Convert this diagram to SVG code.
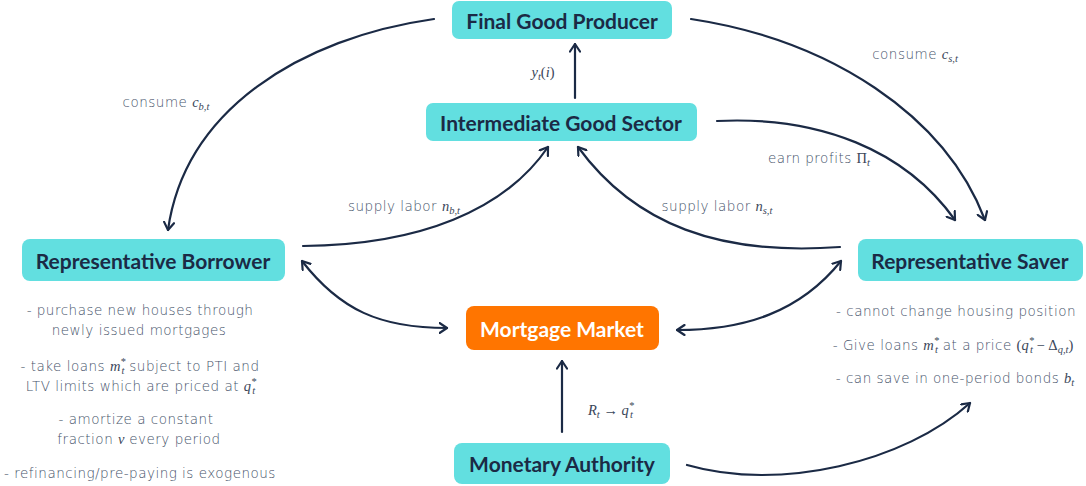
<svg xmlns="http://www.w3.org/2000/svg" width="1086" height="486" viewBox="0 0 1086 486">
  <defs>
    <style>
      .node rect { fill: #62DFE0; }
      .node.market rect { fill: #FF7500; }
      .node text { font-family: Lato, "Open Sans", sans-serif; font-weight: 700; font-size: 21px; fill: #1B2A45; text-anchor: middle; dominant-baseline: central; }
      .node.market text { fill: #FFFFFF; }
      .edges path, .edges line { fill: none; stroke: #1B2A45; stroke-width: 2.2; stroke-linecap: round; }
      .note { font-family: "DejaVu Sans", "Open Sans", sans-serif; font-weight: 200; font-size: 13.5px; letter-spacing: 0.5px; fill: #46536A; text-anchor: middle; }
      .m { font-family: "Liberation Serif", "DejaVu Serif", serif; font-weight: 400; font-style: italic; font-size: 14.5px; letter-spacing: 0; fill: #3A4659; }
      .mr { font-family: "Liberation Serif", "DejaVu Serif", serif; font-weight: 400; font-style: normal; font-size: 14.5px; letter-spacing: 0; fill: #3A4659; }
      .sub { font-size: 10.5px; }
    </style>
    <marker id="head" viewBox="0 0 10 12" refX="8.5" refY="6" markerWidth="10" markerHeight="12" markerUnits="userSpaceOnUse" orient="auto-start-reverse">
      <path d="M1,1 L8.5,6 L1,11" fill="none" stroke="#1B2A45" stroke-width="2.2" stroke-linecap="round" stroke-linejoin="round"/>
    </marker>
  </defs>

  <rect width="1086" height="486" fill="#FFFFFF"/>

  <!-- connectors -->
  <g class="edges">
    <line x1="575" y1="98" x2="575" y2="44" marker-end="url(#head)"/>
    <path d="M434,19 C 300,38 185,110 168,230" marker-end="url(#head)"/>
    <path d="M691,19 C 830,40 945,115 985,220" marker-end="url(#head)"/>
    <path d="M717,121 C 820,116 905,150 955,220" marker-end="url(#head)"/>
    <path d="M303,246 C 420,245 505,210 548,147" marker-end="url(#head)"/>
    <path d="M840,247 C 720,256 635,225 578,147" marker-end="url(#head)"/>
    <path d="M302,261 C 340,310 380,328 447,328" marker-start="url(#head)" marker-end="url(#head)"/>
    <path d="M841,261 C 800,312 745,330 677,330" marker-start="url(#head)" marker-end="url(#head)"/>
    <line x1="562" y1="432" x2="562" y2="361" marker-end="url(#head)"/>
    <path d="M687,465 C 780,492 905,462 970,403" marker-end="url(#head)"/>
  </g>

  <!-- connector labels -->
  <g id="edge-labels">
    <text class="note" x="543" y="77"><tspan class="m">y</tspan><tspan class="m sub" dy="3">t</tspan><tspan class="mr" dy="-3">(</tspan><tspan class="m">i</tspan><tspan class="mr">)</tspan></text>
    <text class="note" x="166" y="107">consume <tspan class="m">c</tspan><tspan class="m sub" dy="3">b,t</tspan></text>
    <text class="note" x="915" y="59">consume <tspan class="m">c</tspan><tspan class="m sub" dy="3">s,t</tspan></text>
    <text class="note" x="819" y="163">earn profits <tspan class="mr">Π</tspan><tspan class="m sub" dy="3">t</tspan></text>
    <text class="note" x="404" y="211">supply labor <tspan class="m">n</tspan><tspan class="m sub" dy="3">b,t</tspan></text>
    <text class="note" x="717" y="211">supply labor <tspan class="m">n</tspan><tspan class="m sub" dy="3">s,t</tspan></text>
    <text class="note" x="611" y="415"><tspan class="m">R</tspan><tspan class="m sub" dy="3">t</tspan><tspan class="mr" dy="-3"> → </tspan><tspan class="m">q</tspan><tspan class="m sub" dy="-6">*</tspan><tspan class="m sub" dx="-4" dy="9">t</tspan></text>
  </g>

  <!-- nodes -->
  <g id="final-good-producer" class="node">
    <rect x="452" y="1" width="220" height="38" rx="7"/>
    <text x="562" y="20">Final Good Producer</text>
  </g>
  <g id="intermediate-good-sector" class="node">
    <rect x="426" y="103" width="271" height="38" rx="7"/>
    <text x="561" y="122">Intermediate Good Sector</text>
  </g>
  <g id="representative-borrower" class="node">
    <rect x="22" y="239" width="263" height="42" rx="8"/>
    <text x="153" y="260">Representative Borrower</text>
  </g>
  <g id="representative-saver" class="node">
    <rect x="858" y="239" width="225" height="42" rx="8"/>
    <text x="970" y="260">Representative Saver</text>
  </g>
  <g id="mortgage-market" class="node market">
    <rect x="466" y="306" width="193" height="44" rx="8"/>
    <text x="562" y="328">Mortgage Market</text>
  </g>
  <g id="monetary-authority" class="node">
    <rect x="454" y="443" width="216" height="41" rx="8"/>
    <text x="562" y="463">Monetary Authority</text>
  </g>

  <!-- borrower notes -->
  <g id="borrower-notes">
    <text class="note" x="140" y="315">- purchase new houses through</text>
    <text class="note" x="139" y="335">newly issued mortgages</text>
    <text class="note" x="140" y="371">- take loans <tspan class="m">m</tspan><tspan class="m sub" dy="-6">*</tspan><tspan class="m sub" dx="-4" dy="9">t</tspan><tspan dy="-3"> subject to PTI and</tspan></text>
    <text class="note" x="141" y="391">LTV limits which are priced at <tspan class="m">q</tspan><tspan class="m sub" dy="-6">*</tspan><tspan class="m sub" dx="-4" dy="9">t</tspan></text>
    <text class="note" x="136" y="424">- amortize a constant</text>
    <text class="note" x="139" y="444">fraction <tspan class="m">ν</tspan> every period</text>
    <text class="note" x="140" y="478">- refinancing/pre-paying is exogenous</text>
  </g>

  <!-- saver notes -->
  <g id="saver-notes">
    <text class="note" x="956" y="316">- cannot change housing position</text>
    <text class="note" x="953" y="350">- Give loans <tspan class="m">m</tspan><tspan class="m sub" dy="-6">*</tspan><tspan class="m sub" dx="-4" dy="9">t</tspan><tspan dy="-3"> at a price </tspan><tspan class="mr">(</tspan><tspan class="m">q</tspan><tspan class="m sub" dy="-6">*</tspan><tspan class="m sub" dx="-4" dy="9">t</tspan><tspan class="mr" dy="-3"> − Δ</tspan><tspan class="m sub" dy="3">q,t</tspan><tspan class="mr" dy="-3">)</tspan></text>
    <text class="note" x="955" y="383">- can save in one-period bonds <tspan class="m">b</tspan><tspan class="m sub" dy="3">t</tspan></text>
  </g>
</svg>
